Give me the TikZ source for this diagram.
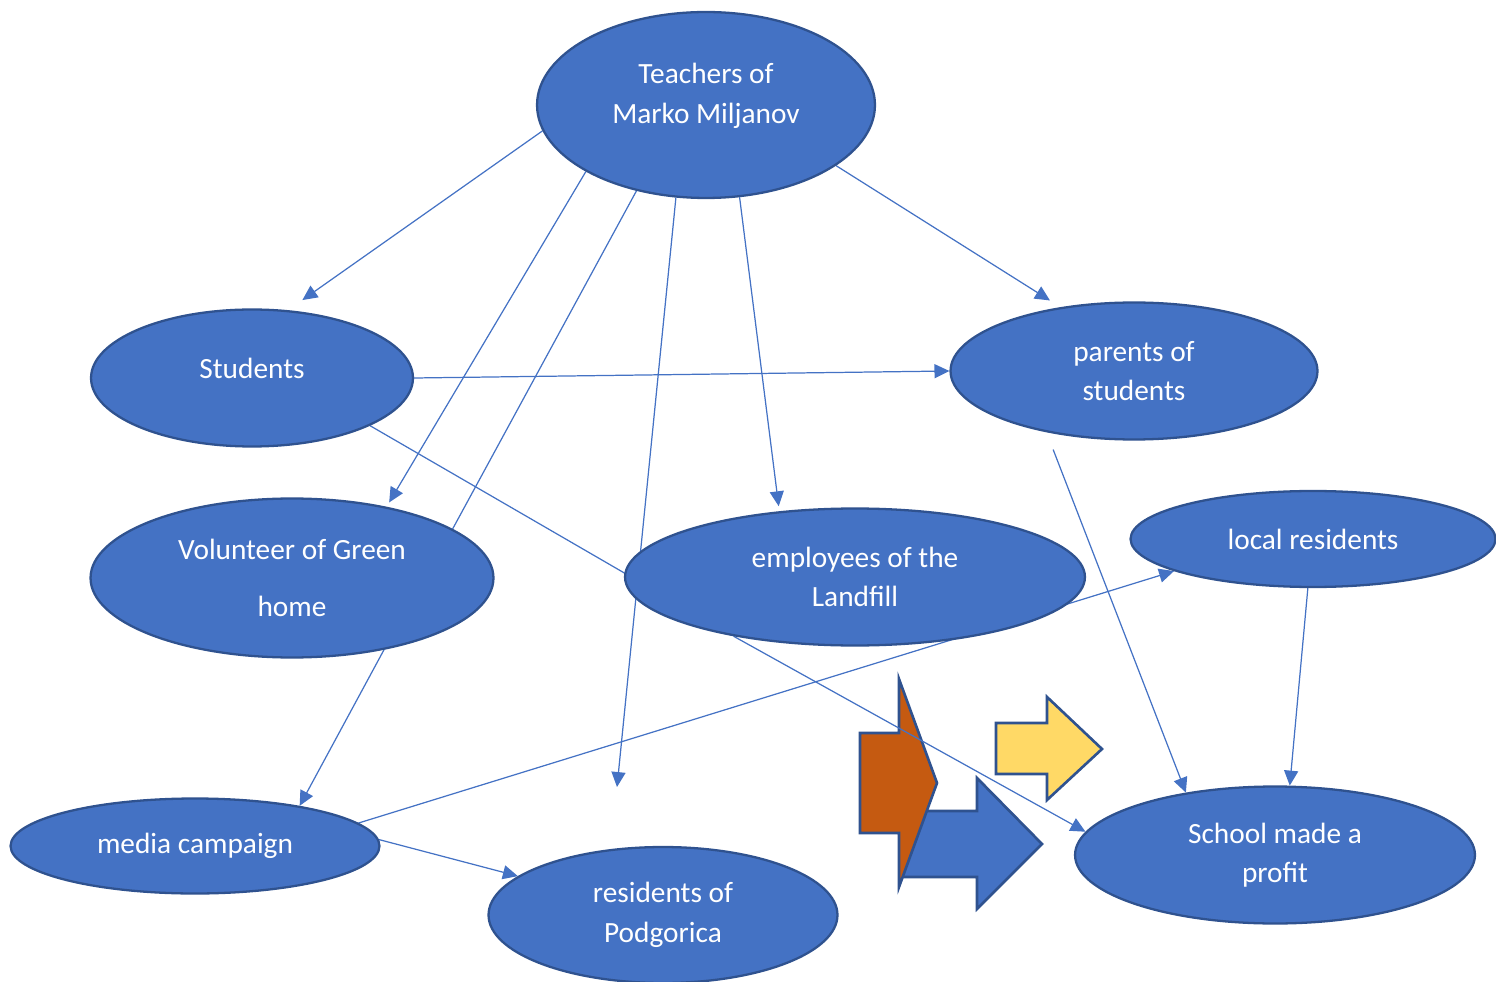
\documentclass[tikz,border=0pt]{standalone}
\usepackage{fontspec}
\setmainfont{Carlito}
\usetikzlibrary{arrows.meta,shapes.geometric,backgrounds}
\definecolor{bubfill}{HTML}{4472C4}
\definecolor{bubline}{HTML}{2F528F}
\definecolor{orng}{HTML}{C55A11}
\definecolor{yell}{HTML}{FFD966}

\begin{document}
\begin{tikzpicture}[x=0.02cm,y=-0.02cm,
  bub/.style={ellipse,draw=bubline,fill=bubfill,line width=1.3pt,inner sep=0pt,
    text=white,align=center,font=\fontsize{16.7}{22.5}\selectfont},
  twoline/.style={execute at begin node={\rule{0pt}{16pt}}},
  txt/.style={text=white,align=center,font=\fontsize{16.7}{22.5}\selectfont},
  link/.style={draw=bubfill,line width=0.7pt},
  conn/.style={link,-{Triangle[length=8.5pt,width=8pt]}},
  blockarr/.style={draw=bubline,line width=1.5pt,line join=miter}]
\useasboundingbox (0,0) rectangle (1496,982);

% the ellipses
\node[bub,minimum width=6.76cm,minimum height=3.72cm] (teach) at (706,105) {};
\node[txt] (teachtxt) at (706,96) {Teachers of\\Marko Miljanov};
\node[bub,minimum width=6.44cm,minimum height=2.74cm] (stud) at (252,378) {};
\node[txt] (studtxt) at (252,368) {Students};
\node[bub,twoline,minimum width=7.34cm,minimum height=2.74cm] (par) at (1134,371) {parents of\\students};
\node[bub,twoline,minimum width=8.06cm,minimum height=3.18cm] (vol) at (292,578) {Volunteer of Green\\[10pt]home};
\node[bub,twoline,minimum width=9.2cm,minimum height=2.74cm] (emp) at (855,577) {employees of the\\Landfill};
\node[bub,minimum width=7.3cm,minimum height=1.92cm] (loc) at (1313,539) {local residents};
\node[bub,minimum width=7.38cm,minimum height=1.9cm] (med) at (195,846) {media campaign};
\node[bub,twoline,minimum width=6.98cm,minimum height=2.72cm] (pod) at (663,915) {residents of\\Podgorica};
\node[bub,twoline,minimum width=8cm,minimum height=2.74cm] (sch) at (1275,855) {School made a\\profit};
\coordinate (loose) at (617,787);

\begin{scope}[on background layer]
% block arrows
\filldraw[blockarr,fill=bubfill] (900,811) -- (977,811) -- (977,778) -- (1042,844)
  -- (977,909) -- (977,877) -- (900,877) -- cycle;
\filldraw[blockarr,fill=orng] (860,733) -- (899,733) -- (899,679) -- (937,783)
  -- (899,887) -- (899,833) -- (860,833) -- cycle;
\filldraw[blockarr,fill=yell] (996,723) -- (1047,723) -- (1047,697) -- (1102,749)
  -- (1047,800) -- (1047,774) -- (996,774) -- cycle;

% connectors
\draw[conn,shorten >=0.35cm] (teach.189) -- (stud.62);
\draw[conn,shorten >=0.1cm] (teach.209) -- (vol.37);
\draw[link] (teach.231) -- (vol.17);
\draw[conn] (teach.252) -- (loose);
\draw[conn,shorten >=0.1cm] (teach.290) -- (emp.139);
\draw[conn,shorten >=0.25cm] (teach.335) -- (par.139);
\draw[conn] (stud.east) -- (par.west);
\draw[link] (stud.338) -- (emp.179);
\draw[conn] (emp.206) -- (sch.173);
\draw[conn,shorten <=0.37cm] (par.215) -- (sch.145);
\draw[conn] (loc.264) -- (sch.78);
\draw[conn] (med.8) -- (loc.193);
\draw[conn] (med.2) -- (pod.165);
\draw[conn] (vol.322) -- (med.21);
\end{scope}
\end{tikzpicture}
\end{document}
